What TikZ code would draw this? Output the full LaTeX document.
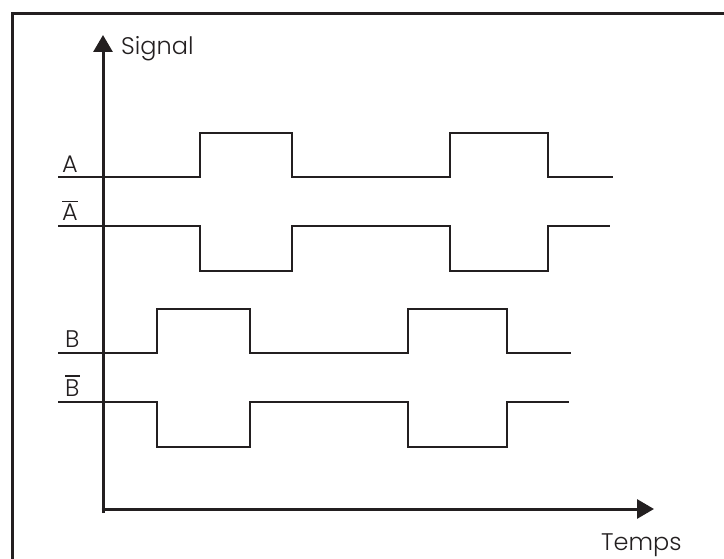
\documentclass[tikz,border=0pt]{standalone}
\usepackage{fontspec}
\setmainfont{Poppins}[UprightFont={* Light}]
\usetikzlibrary{arrows.meta}
% letter with a bar over it
\newcommand\barred[1]{\leavevmode\vbox{\hrule height 1.3pt\kern 2.6pt\hbox{#1}}}
\definecolor{ink}{RGB}{35,31,32}
\begin{document}
\begin{tikzpicture}[x=1pt,y=-1pt,
  frame/.style={line width=3pt,draw=ink},
  axis/.style={line width=3pt,draw=ink,fill=ink,-{Triangle[length=17pt,width=19pt]}},
  wave/.style={line width=2.6pt,draw=ink,line join=miter},
  lbl/.style={font=\fontsize{24}{29}\selectfont,text=ink,inner sep=0pt,anchor=base west},
  ]
  \useasboundingbox (0,0) rectangle (724,559);
  % outer frame (only its top and left sides lie inside the page)
  \draw[frame] (12.5,580) -- (12.5,13.5) -- (740,13.5);
  % axes
  \coordinate (O) at (103,509);
  \coordinate (ytip) at (103,35);
  \coordinate (xtip) at (654,509);
  \draw[axis] (103,513) -- (ytip);
  \draw[axis] (101.5,509) -- (xtip);
  \node[lbl] (sig) at (121,55) {Signal};
  \node[lbl] (tps) at (601,550) {Temps};
  % channel A
  \coordinate (a0) at (58,177);
  \draw[wave] (a0) -- (200,177) -- (200,133) -- (292,133) -- (292,177)
    -- (450,177) -- (450,133) -- (548,133) -- (548,177) -- (613,177);
  \node[lbl] (la) at (62,173) {A};
  % channel A inverted
  \coordinate (an0) at (58,226);
  \draw[wave] (an0) -- (200,226) -- (200,271) -- (292,271) -- (292,226)
    -- (450,226) -- (450,271) -- (548,271) -- (548,226) -- (610,226);
  \node[lbl] (lan) at (62,221) {\barred{A}};
  % channel B
  \coordinate (b0) at (58,353);
  \draw[wave] (b0) -- (157,353) -- (157,309) -- (250,309) -- (250,353)
    -- (408,353) -- (408,309) -- (507,309) -- (507,353) -- (571,353);
  \node[lbl] (lb) at (65,347) {B};
  % channel B inverted
  \coordinate (bn0) at (58,402);
  \draw[wave] (bn0) -- (157,402) -- (157,447) -- (250,447) -- (250,402)
    -- (408,402) -- (408,447) -- (507,447) -- (507,402) -- (569,402);
  \node[lbl] (lbn) at (65,396) {\barred{B}};
\end{tikzpicture}
\end{document}
